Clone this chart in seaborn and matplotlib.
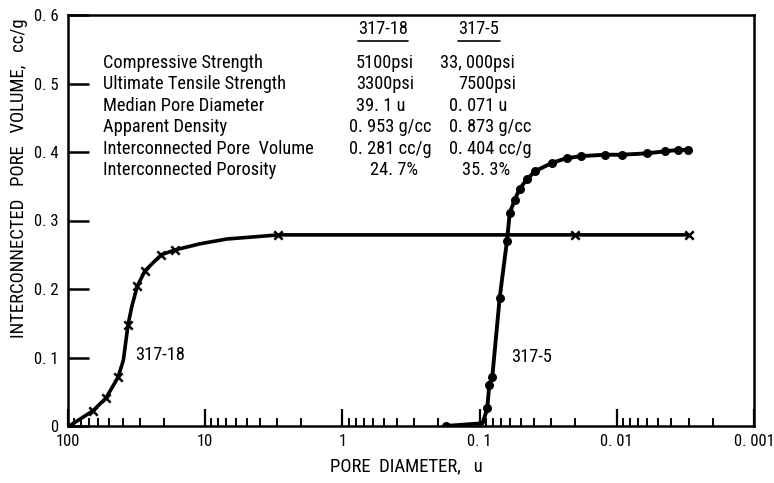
import matplotlib
matplotlib.use("Agg")
import matplotlib.pyplot as plt
import matplotlib.ticker as mticker
import matplotlib.transforms as mtransforms
import matplotlib.font_manager as fm
import numpy as np
import pandas as pd
import seaborn as sns

# --- data ---
# sample 317-18 (x markers); some points only trace the curve between markers
d18 = [98, 66, 52.8, 43.2, 39.5, 36.5, 34.3, 31.3, 27.4, 20.9, 16.6, 10.9, 6.95,
       4.47, 2.93, 0.0203, 0.0030]
v18 = [0.0, 0.022, 0.041, 0.071, 0.096, 0.148, 0.174, 0.204, 0.227, 0.250, 0.257,
       0.266, 0.273, 0.276, 0.279, 0.279, 0.279]
marked18 = [True, True, True, True, False, True, False, True, True, True, True,
            False, False, False, True, True, True]

# sample 317-5 (filled circles)
d5 = [0.177, 0.095, 0.0879, 0.0850, 0.0808, 0.0714, 0.0632, 0.0603, 0.0555, 0.0511,
      0.0453, 0.0393, 0.0298, 0.0232, 0.0181, 0.0122, 0.00924, 0.00604, 0.00444,
      0.00360, 0.00302]
v5 = [0.0, 0.004, 0.026, 0.060, 0.072, 0.187, 0.270, 0.311, 0.330, 0.346,
      0.360, 0.372, 0.384, 0.391, 0.394, 0.396, 0.396, 0.398, 0.401, 0.403, 0.403]
marked5 = [True, False] + [True] * (len(d5) - 2)

samples = ["317-18", "317-5"]
props = ["Compressive Strength", "Ultimate Tensile Strength", "Median Pore Diameter",
         "Apparent Density", "Interconnected Pore  Volume", "Interconnected Porosity"]
vals18 = ["5100psi", "3300psi", "39. 1 u", "0. 953 g/cc", "0. 281 cc/g", "24. 7%"]
vals5 = ["33, 000psi", "7500psi", "0. 071 u", "0. 873 g/cc", "0. 404 cc/g", "35. 3%"]

xticks = [100, 10, 1, 0.1, 0.01, 0.001]
xticklabels = ["100", "10", "1", "0. 1", "0. 01", "0. 001"]
yticks = [0, 0.1, 0.2, 0.3, 0.4, 0.5, 0.6]
yticklabels = ["0", "0. 1", "0. 2", "0. 3", "0. 4", "0. 5", "0. 6"]

sns.set_style("ticks")
names = {f.name for f in fm.fontManager.ttflist}
narrow = [n for n in ["Liberation Sans Narrow", "Roboto Condensed", "Open Sans Condensed"]
          if n in names]
plt.rcParams["font.family"] = narrow + ["DejaVu Sans"]
plt.rcParams["font.stretch"] = "condensed"
for k in ["text.color", "axes.labelcolor", "xtick.color", "ytick.color"]:
    plt.rcParams[k] = "black"

fig = plt.figure(figsize=(7.74, 4.83), dpi=100)
ax = fig.add_axes([68 / 774, 1 - 426 / 483, 686 / 774, 411 / 483])

df18 = pd.DataFrame({"d": d18, "v": v18, "m": marked18})
df5 = pd.DataFrame({"d": d5, "v": v5, "m": marked5})

sns.lineplot(data=df18, x="d", y="v", ax=ax, color="black", lw=2.6, sort=False,
             estimator=None)
sns.scatterplot(data=df18[df18["m"]], x="d", y="v", ax=ax, color="black", marker="x",
                s=36, linewidth=1.8, zorder=5)
sns.lineplot(data=df5, x="d", y="v", ax=ax, color="black", lw=2.8, sort=False,
             estimator=None)
sns.scatterplot(data=df5[df5["m"]], x="d", y="v", ax=ax, color="black", s=42,
                edgecolor="black", linewidth=0, zorder=5)

ax.set_xscale("log")
ax.set_xlim(100, 0.001)
ax.set_ylim(0, 0.6)
ax.set_xticks(xticks)
ax.set_xticklabels(xticklabels)
ax.xaxis.set_minor_locator(mticker.LogLocator(base=10, subs=np.arange(2, 10)))
ax.xaxis.set_minor_formatter(mticker.NullFormatter())
ax.set_yticks(yticks)
ax.set_yticklabels(yticklabels)
ax.yaxis.set_minor_locator(mticker.NullLocator())

ax.tick_params(axis="x", which="major", direction="in", length=12, width=1.6,
               labelsize=12, pad=6)
ax.tick_params(axis="x", which="minor", direction="in", length=6, width=1.4)
ax.tick_params(axis="y", which="major", direction="in", length=15, width=1.8,
               labelsize=12, pad=7)
for s in ax.spines.values():
    s.set_visible(True)
    s.set_linewidth(1.8)
    s.set_color("black")

ax.set_xlabel("PORE  DIAMETER,   u", fontsize=13.5)
ax.xaxis.set_label_coords((406 - 68) / 686, (426 - 466) / 411)
ax.xaxis.label.set_va("center")
ax.set_ylabel("INTERCONNECTED   PORE   VOLUME,   cc/g", fontsize=13.5)
ax.yaxis.set_label_coords((19 - 68) / 686, (426 - 178) / 411)
ax.yaxis.label.set_va("center")

# property table
tr = mtransforms.blended_transform_factory(ax.transAxes, ax.transData)
fs = 13.2
row_y = [0.530, 0.499, 0.467, 0.436, 0.404, 0.373]
col18 = [356, 356, 356, 349, 349, 370]
col5 = [440, 458, 449, 449, 449, 462]
for i, p in enumerate(props):
    ax.text((103 - 68) / 686, row_y[i], p, transform=tr, fontsize=fs, va="center", ha="left")
    ax.text((col18[i] - 68) / 686, row_y[i], vals18[i], transform=tr, fontsize=fs,
            va="center", ha="left")
    ax.text((col5[i] - 68) / 686, row_y[i], vals5[i], transform=tr, fontsize=fs,
            va="center", ha="left")

hx = [(383 - 68) / 686, (479 - 68) / 686]
hw = [0.072, 0.062]
for x, w, s in zip(hx, hw, samples):
    ax.text(x, 0.579, s, transform=tr, fontsize=fs, va="center", ha="center")
    ax.plot([x - w / 2, x + w / 2], [0.5615, 0.5615], transform=tr, color="black", lw=1.2)

ax.text(32.4, 0.104, "317-18", fontsize=fs, va="center", ha="left")
ax.text(0.0594, 0.101, "317-5", fontsize=fs, va="center", ha="left")

fig.savefig("out.png", dpi=100)
